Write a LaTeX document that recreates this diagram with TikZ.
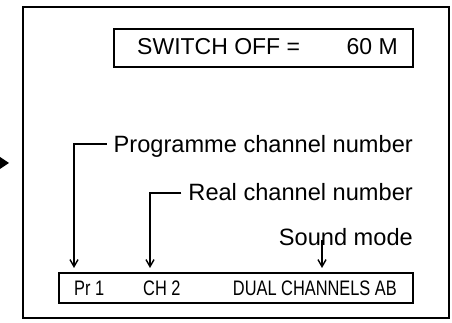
\documentclass[tikz,border=0pt]{standalone}
\usepackage{fontspec}
\setmainfont{Liberation Sans}
\newfontfamily\narrowfont[FakeStretch=0.78]{Liberation Sans}
\usetikzlibrary{arrows.meta}
\begin{document}
\begin{tikzpicture}[x=1pt,y=1pt,
  frame/.style={draw=black,line width=1.9pt},
  lbl/.style={inner sep=0pt,font=\fontsize{23.6}{24}\selectfont},
  swl/.style={inner sep=0pt,font=\fontsize{23}{23}\selectfont},
  disp/.style={inner sep=0pt,font=\narrowfont\fontsize{21}{21}\selectfont},
  leader/.style={draw=black,line width=1.4pt,-{Straight Barb[length=7pt,width=8pt,line width=1.4pt]}}]
\useasboundingbox (0,0) rectangle (452,323);
% outer frame
\draw[frame] (23,5) rectangle (449,316);
% incoming arrow head on the left
\fill[black] (0,166) -- (9,160) -- (0,154) -- cycle;
% switch off box
\draw[frame] (114,256) rectangle (413,294);
\node[swl,anchor=west] (sw) at (137,276) {SWITCH OFF =};
\node[swl,anchor=east] (min) at (398,276) {60 M};
% labels
\node[lbl,anchor=east] (prog) at (413,177) {Programme channel number};
\node[lbl,anchor=east] (real) at (413,131) {Real channel number};
\node[lbl,anchor=east] (sound) at (413,86) {Sound mode};
% bottom display box
\draw[frame] (59,20) rectangle (413,50);
\node[disp,anchor=west] (pr) at (74,35) {Pr 1};
\node[disp,anchor=west] (ch) at (143,35) {CH 2};
\node[disp,anchor=east] (dual) at (397,35) {DUAL CHANNELS AB};
% arrow tips
\coordinate (tipP) at (74,55);
\coordinate (tipR) at (150,55);
\coordinate (tipS) at (322,55);
% leaders
\draw[leader] ([xshift=-7pt,yshift=2pt]prog.west) -| (tipP);
\draw[leader] ([xshift=-7pt,yshift=-1pt]real.west) -| (tipR);
\draw[leader] (322,83) -- (tipS);
\end{tikzpicture}
\end{document}
